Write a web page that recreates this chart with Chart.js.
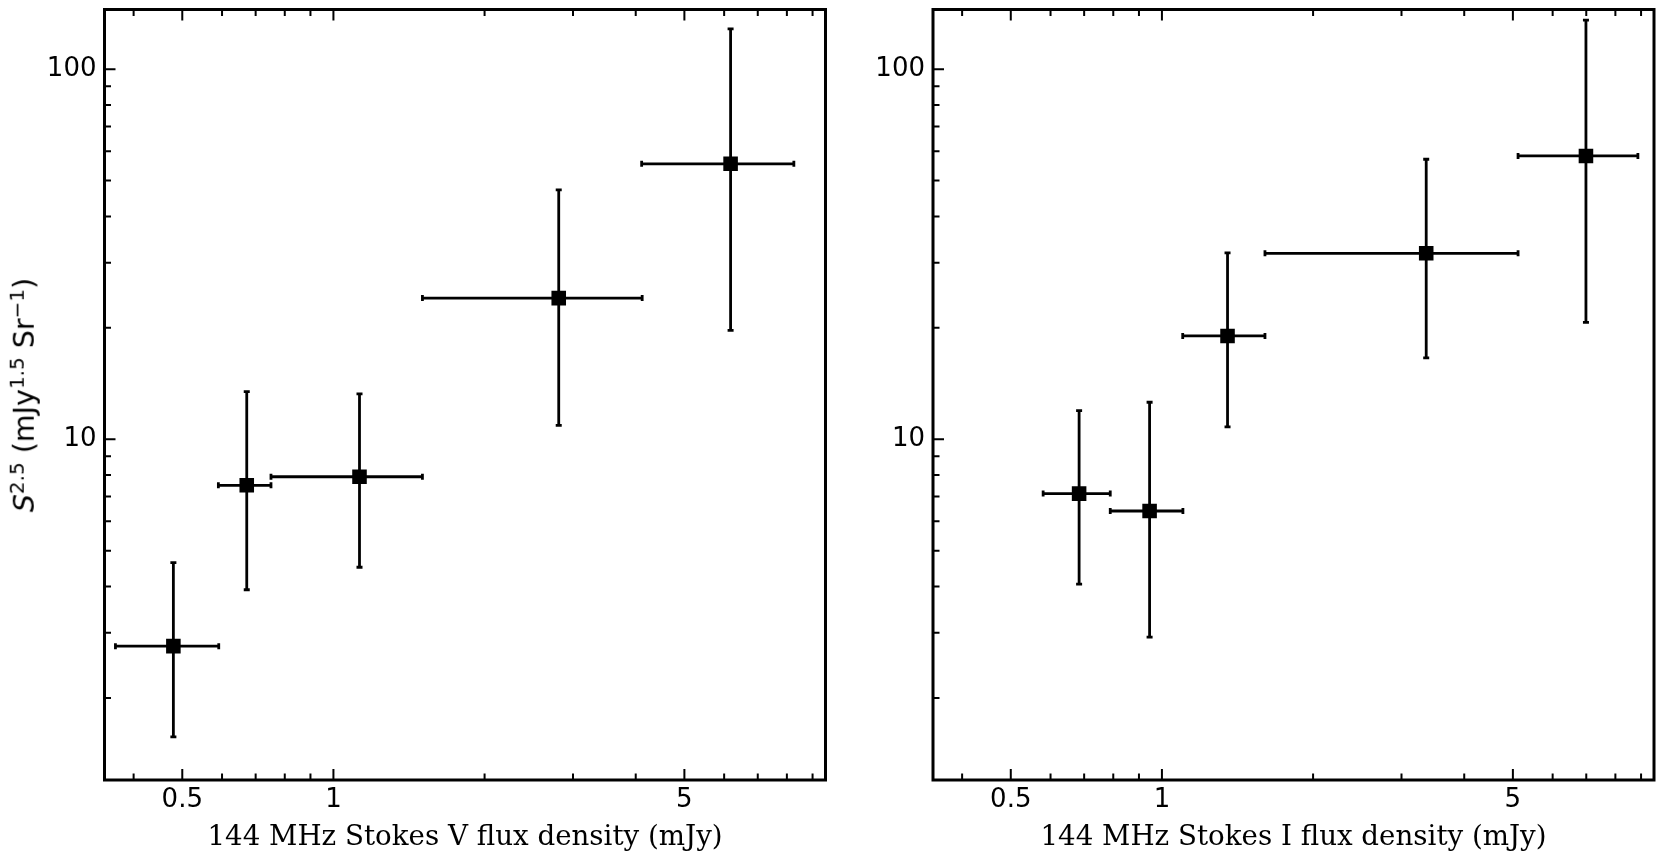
<!DOCTYPE html>
<html><head><meta charset="utf-8">
<script src="https://cdn.jsdelivr.net/npm/chart.js@4.4.0/dist/chart.umd.min.js"></script>
<style>
html,body{margin:0;padding:0;background:#fff;width:1664px;height:863px;overflow:hidden}
.panel{position:absolute;top:0;width:832px;height:863px}
#ylabel{position:absolute;left:25px;top:395px;transform:translate(-50%,-50%) rotate(-90deg);font-family:'DejaVu Sans';font-size:28.5px;white-space:nowrap;color:#000;line-height:1}
#ylabel sup{font-size:20px;position:relative;top:-0.5em;vertical-align:baseline;line-height:0}
</style>
</head><body>
<canvas id="c1" class="panel" width="832" height="863" style="left:0"></canvas>
<canvas id="c2" class="panel" width="832" height="863" style="left:832px"></canvas>
<div id="ylabel"><i>S</i><sup>2.5</sup> (mJy<sup>1.5</sup> Sr<sup>&minus;1</sup>)</div>
<script>
// ---- Data: Stokes V panel ----
const vX   = [0.48, 0.672, 1.127, 2.81, 6.18];
const vXLo = [0.368, 0.590, 0.751, 1.504, 4.11];
const vXHi = [0.591, 0.751, 1.504, 4.12, 8.26];
const vY   = [2.76, 7.51, 7.92, 24.07, 55.5];
const vYLo = [1.57, 3.92, 4.51, 10.9, 19.7];
const vYHi = [4.64, 13.45, 13.26, 47.2, 128.5];

// ---- Data: Stokes I panel ----
const iX   = [0.684, 0.945, 1.351, 3.36, 6.99];
const iXLo = [0.580, 0.789, 1.10, 1.604, 5.12];
const iXHi = [0.789, 1.101, 1.604, 5.12, 8.87];
const iY   = [7.13, 6.40, 19.02, 31.8, 58.3];
const iYLo = [4.06, 2.92, 10.8, 16.6, 20.7];
const iYHi = [11.95, 12.59, 31.9, 57.1, 135.7];

// ---- Ticks ----
const xMajorTicks = [0.5, 1, 5];
const xTickLabels = ['0.5', '1', '5'];
const xMinorTicks = [0.4, 0.6, 0.7, 0.8, 0.9, 2, 3, 4, 6, 7, 8, 9];
const yMajorTicks = [10, 100];
const yTickLabels = ['10', '100'];
const yMinorTicks = [2, 3, 4, 5, 6, 7, 8, 9, 20, 30, 40, 50, 60, 70, 80, 90];

const xTitleV = '144 MHz Stokes V flux density (mJy)';
const xTitleI = '144 MHz Stokes I flux density (mJy)';

const frameTicks = {
  id: 'frameTicks',
  afterDraw(chart) {
    const {ctx, chartArea: a, scales: {x, y}} = chart;
    ctx.save();
    ctx.strokeStyle = '#000';
    ctx.lineWidth = 2;
    ctx.beginPath();
    const major = 11, minor = 6.5;
    const vx = (v, len) => {
      const p = x.getPixelForValue(v);
      ctx.moveTo(p, a.bottom); ctx.lineTo(p, a.bottom - len);
      ctx.moveTo(p, a.top); ctx.lineTo(p, a.top + len);
    };
    const hy = (v, len) => {
      const p = y.getPixelForValue(v);
      ctx.moveTo(a.left, p); ctx.lineTo(a.left + len, p);
    };
    xMajorTicks.forEach(v => vx(v, major));
    xMinorTicks.forEach(v => vx(v, minor));
    yMajorTicks.forEach(v => hy(v, major));
    yMinorTicks.forEach(v => hy(v, minor));
    ctx.stroke();
    ctx.lineWidth = 3;
    ctx.strokeRect(a.left, a.top, a.right - a.left, a.bottom - a.top);
    ctx.restore();
  }
};

function makeChart(id, xs, xlo, xhi, ys, ylo, yhi, xTitle, yWidth, padRight) {
  const datasets = [{
    data: xs.map((v, i) => ({x: v, y: ys[i]})),
    showLine: false,
    pointStyle: 'rect',
    pointRadius: 10.3,
    pointBackgroundColor: '#000',
    pointBorderColor: '#000',
    pointBorderWidth: 0
  }];
  xs.forEach((v, i) => {
    datasets.push({
      data: [{x: xlo[i], y: ys[i]}, {x: xhi[i], y: ys[i]}],
      showLine: true, borderColor: '#000', borderWidth: 2.8,
      pointStyle: 'line', pointRotation: 90, pointRadius: 3,
      pointBorderWidth: 2.8, pointBorderColor: '#000'
    });
    datasets.push({
      data: [{x: v, y: ylo[i]}, {x: v, y: yhi[i]}],
      showLine: true, borderColor: '#000', borderWidth: 2.8,
      pointStyle: 'line', pointRotation: 0, pointRadius: 3,
      pointBorderWidth: 2.8, pointBorderColor: '#000'
    });
  });
  return new Chart(document.getElementById(id), {
    type: 'scatter',
    data: {datasets},
    options: {
      responsive: false,
      animation: false,
      events: [],
      layout: {autoPadding: false, padding: {top: 9.5, right: padRight, left: 0, bottom: 0}},
      plugins: {legend: {display: false}, tooltip: {enabled: false}},
      scales: {
        x: {
          type: 'logarithmic', min: 0.35, max: 9.55, position: 'bottom',
          grid: {display: false, drawTicks: false}, border: {display: false},
          afterBuildTicks: s => { s.ticks = xMajorTicks.map(v => ({value: v})); },
          afterFit: s => { s.height = 83; s.paddingLeft = 0; s.paddingRight = 0; },
          ticks: {autoSkip: false, maxRotation: 0, minRotation: 0, padding: 5, color: '#000',
                  font: {family: 'DejaVu Sans', size: 26}, callback: (v, i) => xTickLabels[i]},
          title: {display: true, text: xTitle, color: '#000',
                  font: {family: 'DejaVu Serif', size: 27.7}, padding: {top: 0, bottom: 9}}
        },
        y: {
          type: 'logarithmic', min: 1.2, max: 145, position: 'left',
          grid: {display: false, drawTicks: false}, border: {display: false},
          afterBuildTicks: s => { s.ticks = yMajorTicks.map(v => ({value: v})); },
          afterFit: s => { s.width = yWidth; s.paddingTop = 0; s.paddingBottom = 0; },
          ticks: {autoSkip: false, padding: 8, color: '#000',
                  font: {family: 'DejaVu Sans', size: 26}, callback: (v, i) => yTickLabels[i]}
        }
      }
    },
    plugins: [frameTicks]
  });
}

makeChart('c1', vX, vXLo, vXHi, vY, vYLo, vYHi, xTitleV, 104.5, 6.5);
makeChart('c2', iX, iXLo, iXHi, iY, iYLo, iYHi, xTitleI, 101, 10);
</script>
</body></html>
